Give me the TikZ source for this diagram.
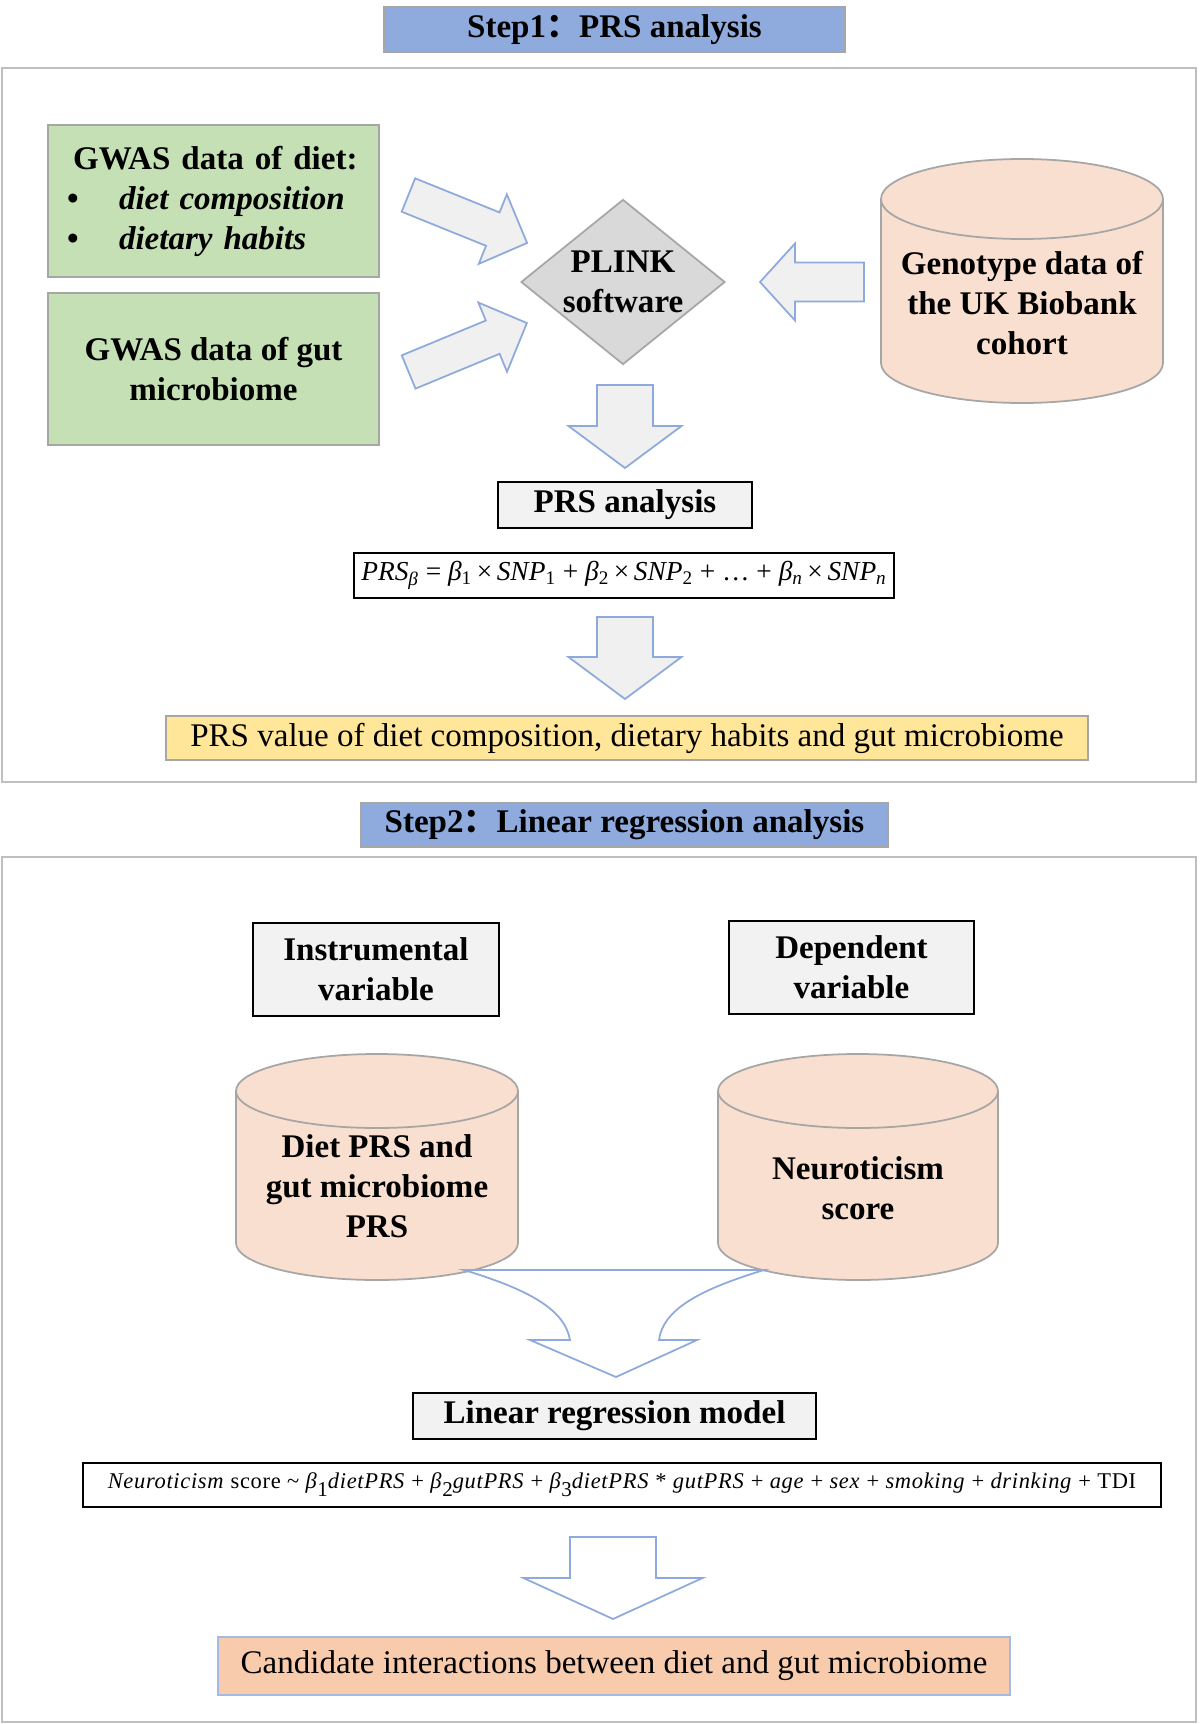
\documentclass[tikz,border=0pt]{standalone}
\usepackage{fontspec}
\setmainfont{Liberation Serif}
\newfontfamily\cjk{Noto Sans CJK SC}
\newfontfamily\wideserif[LetterSpace=3]{Liberation Serif}
\usetikzlibrary{shapes}
\newcommand{\px}{0.02cm}
\newcommand{\bigfont}{\fontsize{18.8}{22.8}\selectfont}
\newcommand{\dropsub}[1]{\raisebox{-0.8ex}{\fontsize{12}{12}\selectfont #1}}

\definecolor{titleblue}{HTML}{8FAADC}
\definecolor{gwasgreen}{HTML}{C5E0B4}
\definecolor{plinkgray}{HTML}{D9D9D9}
\definecolor{arrowblue}{HTML}{8EA9DB}
\definecolor{arrowfill}{HTML}{F0F0F0}
\definecolor{cylpeach}{HTML}{F9DFCF}
\definecolor{edgegray}{HTML}{A6A6A6}
\definecolor{framegray}{HTML}{BFBFBF}
\definecolor{boxgray}{HTML}{F2F2F2}
\definecolor{prsyellow}{HTML}{FFE699}
\definecolor{candorange}{HTML}{F8CBAD}

\tikzset{
  titlebox/.style={draw=edgegray, line width=1.2pt, fill=titleblue, font=\bigfont\bfseries, inner sep=0pt},
  frame/.style={draw=framegray, line width=1.5pt},
  gwasbox/.style={draw=edgegray, line width=1.2pt, fill=gwasgreen, font=\bigfont\bfseries, minimum width=331*\px, minimum height=152*\px, inner sep=0pt},
  plinkdia/.style={diamond, draw=edgegray, line width=1pt, fill=plinkgray, font=\bigfont\bfseries, align=center, inner sep=0pt, aspect=1.24, minimum width=204*\px, minimum height=165*\px},
  blockarrow/.style={draw=arrowblue, line width=1pt, fill=arrowfill, line join=miter},
  openarrow/.style={draw=arrowblue, line width=1pt, line join=miter},
  darkbox/.style={draw=black, line width=1.4pt, fill=boxgray, font=\bigfont\bfseries, align=center, inner sep=0pt},
  eqbox/.style={draw=black, line width=1.2pt, fill=white, inner sep=0pt},
  cyltext/.style={font=\bigfont\bfseries, align=center, inner sep=0pt}
}

\begin{document}
\begin{tikzpicture}[x=\px, y=-\px]
\useasboundingbox (0,0) rectangle (1200,1724);

% Step 1
\node[titlebox, minimum width=461*\px, minimum height=45*\px] (steponetitle) at (614.5,29.5) {Step1{\cjk ：}PRS analysis};
\draw[frame] (2,68) rectangle (1196,782);

\node[gwasbox, text width=293*\px, align=left] (dietgwas) at (213.5,201) {\hspace*{3.5pt}GWAS data of diet:\\ \makebox[29.6pt][l]{•}\textit{diet composition}\\ \makebox[29.6pt][l]{•}\textit{dietary habits}};
\node[gwasbox, align=center] (gutgwas) at (213.5,369) {GWAS data of gut\\microbiome};
\node[plinkdia] (plink) at (623,282) {PLINK\\software};

\foreach \cx/\cy/\ang/\len/\sw/\hw/\hl in {467.75/219/-22/128/36/75/37, 467.75/347.5/22.5/128/36/75/37, 812/282/180/104/39/77/35, 625/426.5/-90/83/56/113/42, 625/658/-90/82/56/113/42} {
\draw[blockarrow, shift={(\cx,\cy)}, rotate=\ang] ({-\len/2},{-\sw/2}) -- ({\len/2-\hl},{-\sw/2}) -- ({\len/2-\hl},{-\hw/2}) -- ({\len/2},0) -- ({\len/2-\hl},{\hw/2}) -- ({\len/2-\hl},{\sw/2}) -- ({-\len/2},{\sw/2}) -- cycle;
}

% cylinders
\foreach \nm/\cx/\ytop/\ybot/\rx/\ry/\ty/\txt in {genotype/1022/159/403/141/40/303/{Genotype data of\\the UK Biobank\\cohort}, dietprs/377/1054/1280/141/37/1186/{Diet PRS and\\gut microbiome\\PRS}, neuroscore/858/1054/1280/140/37/1188/{Neuroticism\\score}} {
\fill[cylpeach] ({\cx-\rx},{\ytop+\ry}) rectangle ({\cx+\rx},{\ybot-\ry});
\fill[cylpeach] (\cx,{\ybot-\ry}) ellipse [x radius=\rx, y radius=\ry];
\draw[edgegray, line width=1pt, fill=cylpeach] (\cx,{\ytop+\ry}) ellipse [x radius=\rx, y radius=\ry];
\draw[edgegray, line width=1pt] ({\cx-\rx},{\ytop+\ry}) -- ({\cx-\rx},{\ybot-\ry}) arc [start angle=180, end angle=0, x radius=\rx, y radius=\ry] -- ({\cx+\rx},{\ytop+\ry});
\node[cyltext] (\nm) at (\cx,\ty) {\txt};
}

\node[darkbox, minimum width=254*\px, minimum height=46*\px] (prsbox) at (625,505) {PRS analysis};
\node[eqbox, minimum width=540*\px, minimum height=45*\px, font=\fontsize{15.6}{17}\selectfont] (prseq) at (624,575.5) {\textit{PRS}\textsubscript{\textit{β}} = \textit{β}\textsubscript{1}\,×\,\textit{SNP}\textsubscript{1} + \textit{β}\textsubscript{2}\,×\,\textit{SNP}\textsubscript{2} + … + \textit{β}\textsubscript{\textit{n}}\,×\,\textit{SNP}\textsubscript{\textit{n}}};
\node[draw=edgegray, line width=1.2pt, fill=prsyellow, minimum width=922*\px, minimum height=44*\px, inner sep=0pt, font=\bigfont] (prsvalue) at (627,738) {PRS value of diet composition, dietary habits and gut microbiome};

% Step 2
\node[titlebox, minimum width=527*\px, minimum height=44*\px] (steptwotitle) at (624.5,825) {Step2{\cjk ：}Linear regression analysis};
\draw[frame] (2,857) rectangle (1196,1722);

\node[darkbox, line width=1.6pt, minimum width=246*\px, minimum height=93*\px] (instvar) at (376,969.5) {Instrumental\\variable};
\node[darkbox, line width=1.6pt, minimum width=245*\px, minimum height=93*\px] (depvar) at (851.5,967.5) {Dependent\\variable};

% merging arrow
\draw[openarrow] (464,1270) -- (764,1270) .. controls (698,1290) and (663,1310) .. (659,1340) -- (697,1340) -- (616,1377) -- (530,1340) -- (570,1340) .. controls (565,1310) and (530,1290) .. (464,1270) -- cycle;

\node[darkbox, minimum width=403*\px, minimum height=46*\px] (lrmodel) at (614.5,1416) {Linear regression model};
\node[eqbox, minimum width=1078*\px, minimum height=44*\px, font=\fontsize{12.8}{15}\selectfont] (lreq) at (622,1485) {\wideserif \textit{Neuroticism} score \textasciitilde{} \textit{β}\dropsub{1}\textit{dietPRS} + \textit{β}\dropsub{2}\textit{gutPRS} + \textit{β}\dropsub{3}\textit{dietPRS} * \textit{gutPRS} + \textit{age} + \textit{sex} + \textit{smoking} + \textit{drinking} + TDI};

\foreach \cx/\cy/\ang/\len/\sw/\hw/\hl in {613/1578/-90/82/86/179/41} {
\draw[openarrow, shift={(\cx,\cy)}, rotate=\ang] ({-\len/2},{-\sw/2}) -- ({\len/2-\hl},{-\sw/2}) -- ({\len/2-\hl},{-\hw/2}) -- ({\len/2},0) -- ({\len/2-\hl},{\hw/2}) -- ({\len/2-\hl},{\sw/2}) -- ({-\len/2},{\sw/2}) -- cycle;
}

\node[draw=arrowblue!80, line width=1pt, fill=candorange, minimum width=792*\px, minimum height=58*\px, inner sep=0pt, font=\bigfont] (candidate) at (614,1666) {Candidate interactions between diet and gut microbiome};

\end{tikzpicture}
\end{document}
